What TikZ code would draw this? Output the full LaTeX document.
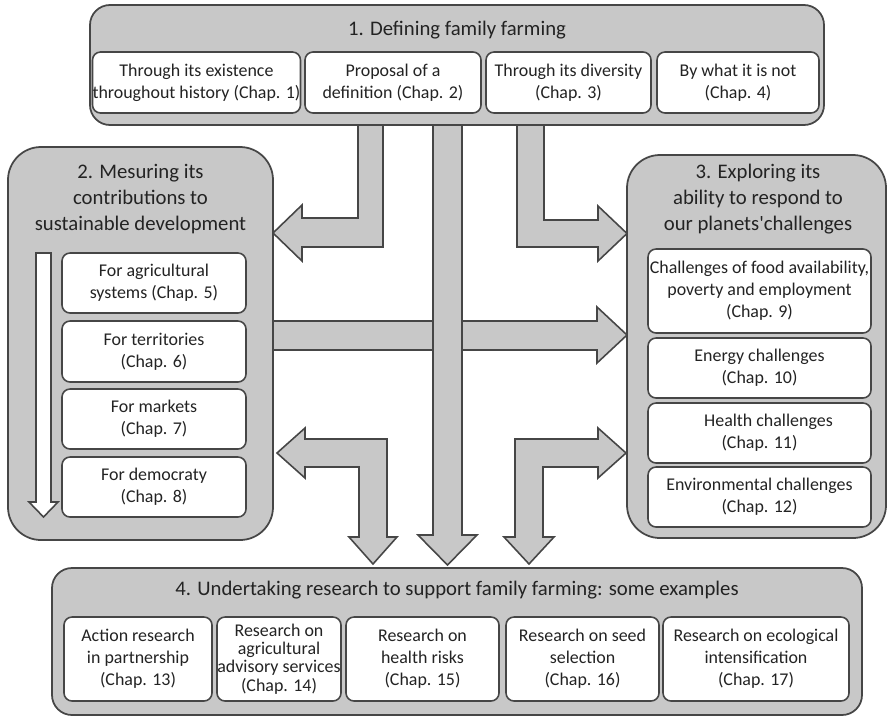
\documentclass[tikz,border=0pt]{standalone}
\usepackage{fontspec}
\setmainfont{Carlito}
\usepackage{tikz}
\usetikzlibrary{positioning,calc}
\definecolor{boxgray}{RGB}{200,200,200}
\definecolor{edgegray}{RGB}{70,70,70}
\definecolor{txtgray}{RGB}{35,35,35}
\tikzset{>=latex,
  sz/.style 2 args={minimum width=#1*0.02cm, minimum height=#2*0.02cm},
  outer/.style={draw=edgegray, fill=boxgray, line width=1pt, inner sep=0pt},
  chap/.style={draw=edgegray, fill=white, line width=0.9pt, rounded corners=0.16cm,
    inner sep=0pt, align=center, text=txtgray, font=\fontsize{10.2}{12.5}\selectfont},
  title/.style={align=center, text=txtgray, font=\fontsize{11.8}{14.7}\selectfont},
  blockarrow/.style={draw=edgegray, fill=boxgray, line width=0.9pt, line join=miter}
}

\begin{document}
\begin{tikzpicture}[x=0.02cm,y=-0.02cm]
    \useasboundingbox (0,0) rectangle (888,717);
    % big arrows first, boxes go over their ends
    \draw [blockarrow] (358,125) -- (383,125) -- (383,247) -- (302,247) -- (302,261) -- (273,233)
      -- (302,205) -- (302,218) -- (358,218) -- cycle;
    \draw [blockarrow] (517,125) -- (544,125) -- (544,220) -- (598,220) -- (598,206) -- (627,233.5)
      -- (598,261) -- (598,247) -- (517,247) -- cycle;
    \draw [blockarrow] (273,321) -- (597,321) -- (597,307) -- (627,335) -- (597,363) -- (597,350)
      -- (273,350) -- cycle;
    \draw [blockarrow] (433,125) -- (462,125) -- (462,535) -- (477,535) -- (447.5,565) -- (418,535)
      -- (433,535) -- cycle;
    \draw [blockarrow] (277,453) -- (305,428) -- (305,439) -- (387,439) -- (387,537) -- (397,537)
      -- (373,564) -- (349,537) -- (359,537) -- (359,467) -- (305,467) -- (305,478) -- cycle;
    \draw [blockarrow] (626,453) -- (598,428) -- (598,439) -- (515,439) -- (515,537) -- (504,537)
      -- (529,564) -- (554,537) -- (543,537) -- (543,467) -- (598,467) -- (598,478) -- cycle;

    % 1. defining
    \node [outer, rounded corners=0.4cm, sz={734}{120}] (defining) at (457,65) {};
    \node [title] (t1) at (457,30) {1. Defining family farming};
    \node [chap, sz={205}{61}] (c1) at (196.5,82.5) {Through its existence\\throughout history (Chap. 1)};
    \node [chap, sz={176}{61}] (c2) at (393,82.5) {Proposal of a\\definition (Chap. 2)};
    \node [chap, sz={165}{61}] (c3) at (568.5,82.5) {Through its diversity\\(Chap. 3)};
    \node [chap, sz={162}{61}] (c4) at (738,82.5) {By what it is not\\(Chap. 4)};

    % 2. measuring
    \node [outer, rounded corners=0.66cm, sz={265}{393}] (measuring) at (140.5,343.5) {};
    \node [title] (t2) at (140.5,199) {2. Mesuring its\\contributions to\\sustainable development};
    \draw [draw=edgegray, fill=white, line width=0.9pt] (36,253) -- (51,253) -- (51,502) -- (58,502)
      -- (43.5,517) -- (29,502) -- (36,502) -- cycle;
    \node [chap, sz={184}{60}] (c5) at (154,283) {For agricultural\\systems (Chap. 5)};
    \node [chap, sz={184}{61}] (c6) at (154,351.5) {For territories\\(Chap. 6)};
    \node [chap, sz={184}{60}] (c7) at (154,419) {For markets\\(Chap. 7)};
    \node [chap, sz={184}{60}] (c8) at (154,487) {For democraty\\(Chap. 8)};

    % 3. exploring
    \node [outer, rounded corners=0.66cm, sz={259}{383}] (exploring) at (756.5,346.5) {};
    \node [title] (t3) at (758,199) {3. Exploring its\\ability to respond to\\our planets\textquotesingle challenges};
    \node [chap, sz={223}{84}] (c9) at (759.5,291) {Challenges of food availability,\\poverty and employment\\(Chap. 9)};
    \node [chap, sz={223}{60}] (c10) at (759.5,368) {Energy challenges\\(Chap. 10)};
    \node [chap, sz={223}{60}] (c11) at (759.5,433) {\hspace{1em}Health challenges\\(Chap. 11)};
    \node [chap, sz={223}{60}] (c12) at (759.5,497) {Environmental challenges\\(Chap. 12)};

    % 4. research
    \node [outer, rounded corners=0.4cm, sz={810}{147}] (research) at (457,641.5) {};
    \node [title] (t4) at (457,590) {4. Undertaking research to support family farming: some examples};
    \node [chap, sz={148}{84}] (c13) at (138,659) {Action research\\in partnership\\(Chap. 13)};
    \node [chap, sz={124}{84}, font=\fontsize{10.2}{10.4}\selectfont] (c14) at (279,659) {Research on\\agricultural\\advisory services\\(Chap. 14)};
    \node [chap, sz={153}{84}] (c15) at (422.5,659) {Research on\\health risks\\(Chap. 15)};
    \node [chap, sz={153}{84}] (c16) at (582.5,659) {Research on seed\\selection\\(Chap. 16)};
    \node [chap, sz={186}{84}] (c17) at (756,659) {Research on ecological\\intensification\\(Chap. 17)};
\end{tikzpicture}
\end{document}
